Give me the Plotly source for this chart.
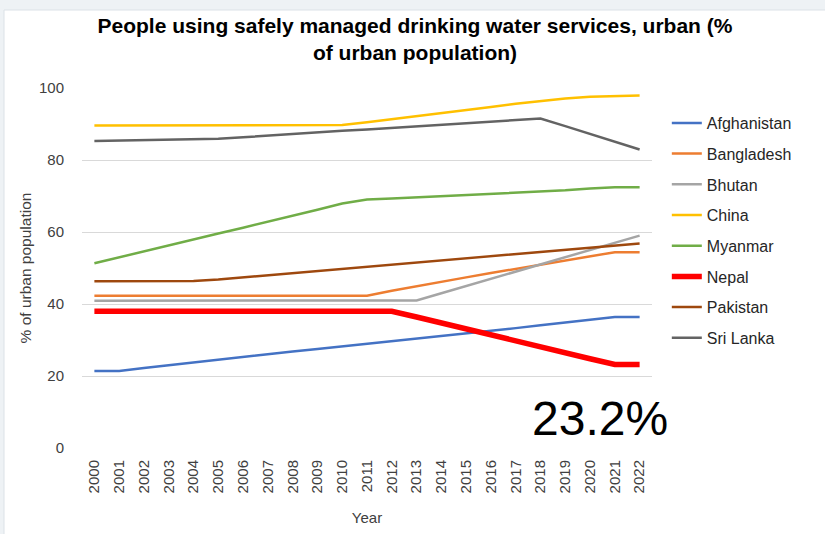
import plotly.graph_objects as go

years = [str(y) for y in range(2000, 2023)]

afghanistan = [21.4, 21.4, 22.2, 23.0, 23.7, 24.5, 25.3, 26.1, 26.8, 27.5, 28.2, 29.0,
               29.7, 30.4, 31.0, 31.7, 32.4, 33.3, 34.1, 34.9, 35.7, 36.4, 36.4]
bangladesh = [42.3, 42.3, 42.3, 42.3, 42.3, 42.3, 42.3, 42.3, 42.3, 42.3, 42.3, 42.3,
              43.7, 45.0, 46.2, 47.4, 48.6, 49.8, 51.0, 52.0, 53.3, 54.4, 54.4]
bhutan = [40.9, 40.9, 40.9, 40.9, 40.9, 40.9, 40.9, 40.9, 41.0, 41.0, 41.0, 41.0,
          41.0, 41.0, 43.0, 45.0, 47.0, 49.0, 51.0, 53.0, 55.0, 57.0, 59.0]
china = [89.6, 89.6, 89.6, 89.6, 89.6, 89.6, 89.7, 89.7, 89.7, 89.7, 89.7, 90.5,
         91.3, 92.2, 93.0, 93.8, 94.7, 95.6, 96.4, 97.1, 97.6, 97.8, 97.9]
myanmar = [51.3, 53.0, 54.7, 56.3, 57.9, 59.6, 61.2, 62.8, 64.5, 66.2, 67.9, 69.0,
           69.3, 69.6, 70.0, 70.3, 70.6, 70.9, 71.2, 71.6, 72.1, 72.4, 72.4]
nepal = [38.0, 38.0, 38.0, 38.0, 38.0, 38.0, 38.0, 38.0, 38.0, 38.0, 38.0, 38.0,
         38.0, 36.4, 34.7, 33.1, 31.4, 29.8, 28.1, 26.5, 24.8, 23.2, 23.2]
pakistan = [46.3, 46.3, 46.3, 46.3, 46.4, 46.8, 47.4, 48.0, 48.6, 49.2, 49.8, 50.4,
            51.0, 51.5, 52.0, 52.6, 53.2, 53.8, 54.4, 55.0, 55.6, 56.2, 56.8]
sri_lanka = [85.3, 85.4, 85.5, 85.6, 85.7, 85.9, 86.3, 86.8, 87.3, 87.7, 88.1, 88.5,
             88.9, 89.3, 89.7, 90.2, 90.6, 91.0, 91.5, 89.4, 87.2, 85.0, 82.9]

series = [
    ("Afghanistan", afghanistan, "#4472C4", 2.5),
    ("Bangladesh", bangladesh, "#ED7D31", 2.5),
    ("Bhutan", bhutan, "#A5A5A5", 2.5),
    ("China", china, "#FFC000", 2.5),
    ("Myanmar", myanmar, "#70AD47", 2.5),
    ("Nepal", nepal, "#FF0000", 5.5),
    ("Pakistan", pakistan, "#9E480E", 2.5),
    ("Sri Lanka", sri_lanka, "#636363", 2.5),
]

title_text = "People using safely managed drinking water services, urban (%<br>of urban population)"
callout = "23.2%"

fig = go.Figure()
for name, vals, color, width in series:
    fig.add_trace(go.Scatter(
        x=years, y=vals, name=name, mode="lines", legendgroup=name,
        line=dict(color=color, width=width),
    ))

FONT = "Liberation Sans, Arial, sans-serif"

fig.update_layout(
    width=825, height=534,
    margin=dict(l=82, r=173, t=88, b=86),
    paper_bgcolor="#EEF2F5",
    plot_bgcolor="white",
    font=dict(family=FONT, color="#404040", size=15),
    title=dict(text=title_text, x=0.503, xref="container", xanchor="center",
               y=0.938, yref="container", yanchor="top",
               font=dict(family=FONT, size=21, color="black", weight="bold")),
    showlegend=True,
    legend=dict(x=1.026, y=0.95, xanchor="left", yanchor="top",
                font=dict(family=FONT, size=16, color="#262626"),
                itemwidth=30, tracegroupgap=6.9, bgcolor="rgba(0,0,0,0)"),
    xaxis=dict(type="category", range=[-0.5, 22.5], tickangle=-90, automargin=False,
               showgrid=False, showline=False, zeroline=False,
               ticks="outside", ticklen=5, tickcolor="rgba(0,0,0,0)",
               tickfont=dict(size=15, color="#404040"),
               title=dict(text="Year", font=dict(size=15, color="#404040"), standoff=20)),
    yaxis=dict(range=[0, 100], dtick=20, showgrid=True, gridcolor="#D9D9D9", gridwidth=1.2,
               zeroline=False, showline=False, automargin=False,
               ticks="outside", ticklen=14, tickcolor="rgba(0,0,0,0)",
               tickfont=dict(size=15, color="#404040"),
               title=dict(text="% of urban population", font=dict(size=15.5, color="#404040"),
                          standoff=3)),
    shapes=[dict(type="rect", xref="paper", yref="paper", layer="below",
                 x0=(4 - 82) / 570, x1=(826 - 82) / 570,
                 y0=(448 - 535) / 360, y1=(448 - 10) / 360,
                 fillcolor="white", line=dict(color="#DCE2E7", width=1))],
    annotations=[dict(text=callout, xref="paper", yref="paper",
                      x=(600 - 82) / 570, y=(448 - 418) / 360,
                      xanchor="center", yanchor="middle", showarrow=False,
                      font=dict(family=FONT, size=48, color="black"))],
)

fig.write_html("out.html", config={"displayModeBar": False},
               post_script="document.body.style.margin='0';document.body.style.overflow='hidden';")
